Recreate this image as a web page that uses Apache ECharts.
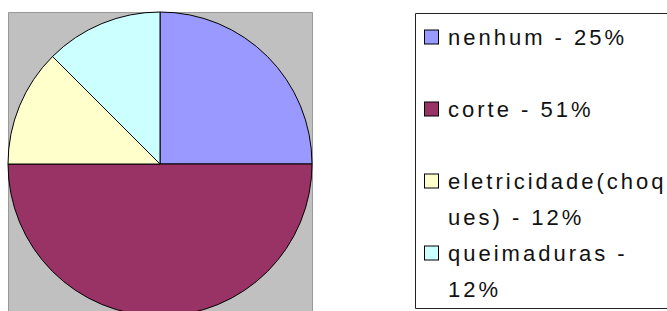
<!DOCTYPE html>
<html>
<head>
<meta charset="utf-8">
<script src="https://cdn.jsdelivr.net/npm/echarts@6/dist/echarts.min.js"></script>
<style>
  html, body { margin: 0; padding: 0; background: #fff; }
  #chart { width: 667px; height: 311px; }
  /* legend text in the original is widely letter-spaced */
  #chart svg text { letter-spacing: 3px; }
</style>
</head>
<body>
<div id="chart"></div>
<script>
const categories = ['nenhum', 'corte', 'eletricidade(choques)', 'queimaduras']
const sliceValues = [25, 50, 12.5, 12.5]
const legendPercent = [25, 51, 12, 12]
const colors = ['#9999FF', '#993366', '#FFFFCC', '#CCFFFF']

const FONT_SIZE = 22
const SPACING = 3
const FONT = FONT_SIZE + 'px "Liberation Sans"'
const LINE_H = 36

// wrap legend text the way the original box does (width based)
function wrapLabel(text, maxW) {
  const ctx = document.createElement('canvas').getContext('2d')
  ctx.font = FONT
  const w = s => ctx.measureText(s).width + s.length * SPACING
  const lines = []
  let line = ''
  text.split(' ').forEach(function(word) {
    const cand = line ? line + ' ' + word : word
    if (w(cand) <= maxW) {
      line = cand
      return
    }
    if (line && w(word) <= maxW) {
      lines.push(line)
      line = word
      return
    }
    if (line) line += ' '
    for (const ch of word) {
      if (w(line + ch) > maxW) {
        lines.push(line)
        line = ch
      } else {
        line += ch
      }
    }
  })
  if (line) lines.push(line)
  return lines
}

const rich = {
  t: { fontSize: FONT_SIZE, lineHeight: LINE_H, color: '#111' },
  s: { width: 10, lineHeight: LINE_H },
  i: { width: 23, lineHeight: LINE_H }
}
colors.forEach(function(c, i) {
  rich['m' + i] = { width: 13, height: 13, backgroundColor: c, borderColor: '#000', borderWidth: 1, lineHeight: LINE_H }
})

const legends = categories.map(function(name, i) {
  return {
    data: [name],
    orient: 'vertical',
    left: 419,
    top: 19 + 72 * i,
    padding: 0,
    itemWidth: 0,
    itemHeight: 0,
    selectedMode: false,
    textStyle: { fontFamily: 'Liberation Sans', fontSize: FONT_SIZE, lineHeight: LINE_H, color: '#111', rich: rich },
    formatter: function(n) {
      const idx = categories.indexOf(n)
      const lines = wrapLabel(n + ' - ' + legendPercent[idx] + '%', 228)
      return lines.map(function(l, k) {
        return (k === 0 ? '{m' + idx + '|}{s|}' : '{i|}') + '{t|' + l + '}'
      }).join('\n')
    }
  }
})

const chart = echarts.init(document.getElementById('chart'), null, { renderer: 'svg' })
chart.setOption({
  animation: false,
  backgroundColor: '#fff',
  graphic: [
    {
      type: 'rect',
      z: -10,
      shape: { x: 8.5, y: 12.5, width: 304, height: 304 },
      style: { fill: '#C0C0C0', stroke: '#999', lineWidth: 1 }
    },
    {
      type: 'rect',
      z: -10,
      shape: { x: 415.5, y: 13.5, width: 300, height: 295 },
      style: { fill: 'none', stroke: '#222', lineWidth: 1 }
    }
  ],
  legend: legends,
  series: [{
    type: 'pie',
    center: [160, 164],
    radius: 152,
    startAngle: 90,
    clockwise: true,
    silent: true,
    label: { show: false },
    labelLine: { show: false },
    itemStyle: { borderColor: '#000', borderWidth: 1 },
    data: categories.map(function(name, i) {
      return { name: name, value: sliceValues[i], itemStyle: { color: colors[i] } }
    })
  }]
})
</script>
</body>
</html>
